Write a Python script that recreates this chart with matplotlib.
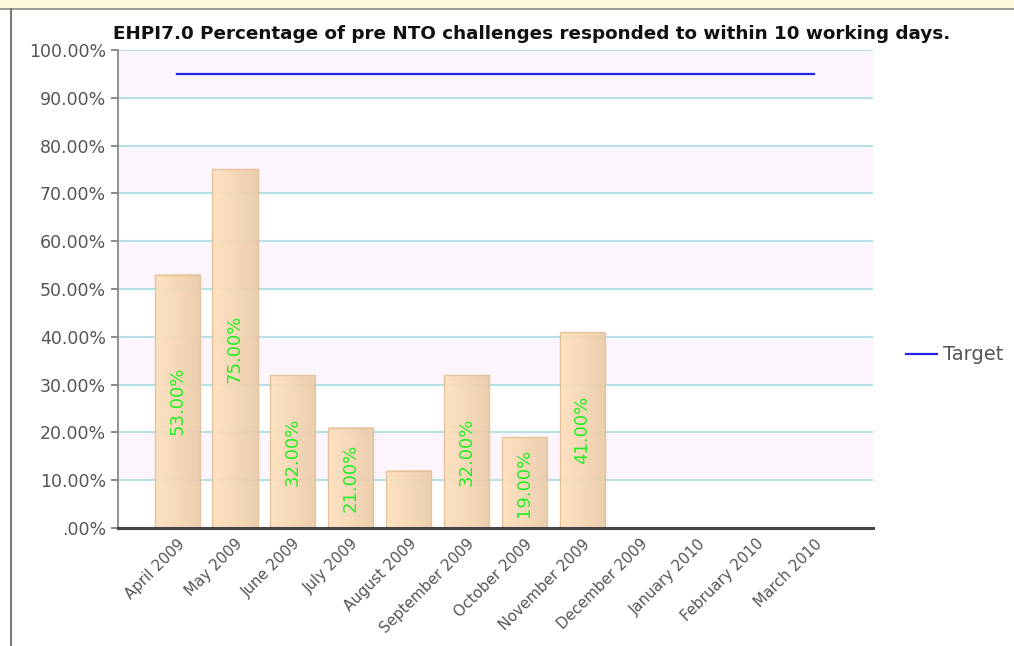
import numpy as np
import matplotlib
matplotlib.use("Agg")
from matplotlib import pyplot as plt
from matplotlib.patches import Rectangle
from matplotlib.lines import Line2D

months = ["April 2009", "May 2009", "June 2009", "July 2009", "August 2009",
          "September 2009", "October 2009", "November 2009", "December 2009",
          "January 2010", "February 2010", "March 2010"]
actual = [53.0, 75.0, 32.0, 21.0, 12.0, 32.0, 19.0, 41.0]
labelled = [True, True, True, True, False, True, True, True]
target = [95.0] * len(months)
yticks = np.arange(0, 101, 10)
ytick_labels = [".00%"] + ["%.2f%%" % v for v in yticks[1:]]


def main():
    fig = plt.figure(figsize=(10.14, 6.46), dpi=100)
    ax = fig.add_axes([0.1164, 0.1827, 0.7446, 0.740])

    # page decorations: yellow header strip and left border
    fig.patches.append(Rectangle((0, 1 - 8 / 646), 1, 8 / 646, transform=fig.transFigure,
                                 facecolor="#fdf9dc", edgecolor="none", zorder=0))
    fig.lines.append(Line2D([0, 1], [1 - 8.5 / 646] * 2, transform=fig.transFigure,
                            color="#8a8a80", lw=1.2))
    fig.lines.append(Line2D([10.5 / 1014] * 2, [0, 1 - 8.5 / 646], transform=fig.transFigure,
                            color="#7a7a70", lw=1.5))

    x = np.arange(len(months))
    ax.set_xlim(-1.02, 12.02)
    ax.set_ylim(0, 100)

    # alternating bands
    for lo in range(10, 100, 20):
        ax.axhspan(lo, lo + 10, color="#fdf5fd", lw=0, zorder=0)
    for v in yticks[1:]:
        ax.axhline(v, color="#b4e0e6", lw=1.5, zorder=1)

    # gradient bars
    grad = np.linspace(0, 1, 64).reshape(1, -1)
    cmap = matplotlib.colors.LinearSegmentedColormap.from_list(
        "bar", ["#fde0bb", "#f6d6b2", "#e9cba8"])
    w = 0.78
    for i, v in enumerate(actual):
        ax.imshow(grad, extent=(i - w / 2, i + w / 2, 0, v), aspect="auto",
                  cmap=cmap, alpha=0.92, zorder=2, interpolation="bicubic")
        ax.add_patch(Rectangle((i - w / 2, 0), w, v, fill=False,
                               edgecolor="#e3c29c", lw=1.0, zorder=3))
        if labelled[i]:
            ax.text(i, v / 2, "%.2f%%" % v, rotation=90, ha="center", va="center",
                    color="#22ee22", fontsize=13, zorder=4)

    ax.plot(x, target, color="#2424e6", lw=1.6, zorder=4, label="Target")

    ax.set_xticks(x)
    ax.set_xticklabels(months, rotation=45, ha="right", rotation_mode="anchor",
                       color="#555555", fontsize=10.8)
    ax.set_yticks(yticks)
    ax.set_yticklabels(ytick_labels, color="#555555", fontsize=12.5)
    ax.tick_params(axis="x", length=0, pad=6)
    ax.tick_params(axis="y", length=5, color="#777777", width=1.2)

    for s in ["top", "right"]:
        ax.spines[s].set_visible(False)
    ax.spines["left"].set_color("#888888")
    ax.spines["left"].set_linewidth(1.3)
    ax.spines["bottom"].set_color("#444444")
    ax.spines["bottom"].set_linewidth(2.2)
    ax.spines["bottom"].set_zorder(5)

    ax.set_title("EHPI7.0 Percentage of pre NTO challenges responded to within 10 working days.",
                 fontsize=13.2, fontweight="bold", color="#111111", pad=8, loc="center", x=0.548)

    leg = ax.legend(loc="center left", bbox_to_anchor=(1.02, 0.362), frameon=False,
                    fontsize=14, handlelength=1.6, handletextpad=0.3)
    for t in leg.get_texts():
        t.set_color("#555555")

    fig.savefig("out.png", dpi=100)


if __name__ == '__main__':
    main()
